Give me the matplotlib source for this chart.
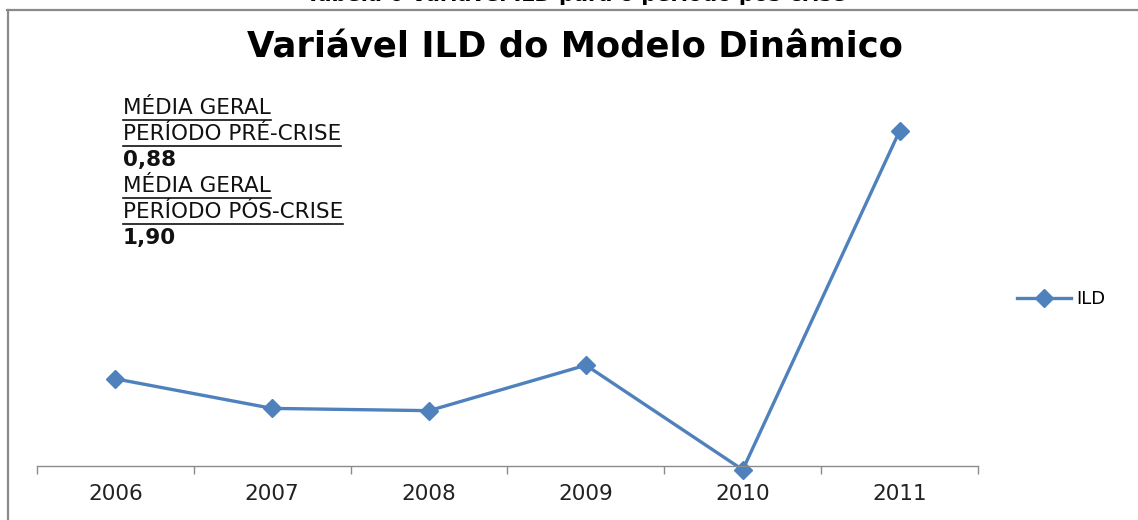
import numpy as np

import matplotlib
matplotlib.use('Agg')

import matplotlib.pyplot as plt
from matplotlib.lines import Line2D

plt.rcParams['font.family'] = ['DejaVu Sans']

# data (no y axis shown)
years = ['2006', '2007', '2008', '2009', '2010', '2011']
ild = [1.15, 0.76, 0.73, 1.33, -0.05, 4.42]
notes = [
    ('MÉDIA GERAL', True, False),
    ('PERÍODO PRÉ-CRISE', True, False),
    ('0,88', False, True),
    ('MÉDIA GERAL', True, False),
    ('PERÍODO PÓS-CRISE', True, False),
    ('1,90', False, True),
]

W, H = 1138, 520
fig = plt.figure(figsize=(W / 100, H / 100), dpi=100)

blue = '#4F81BD'
grey = '#8C8C8C'

# outer frame of the pasted chart
fig.add_artist(Line2D([7 / W, 1], [1 - 10 / H, 1 - 10 / H], color='#8A8A8A', lw=1.6))
fig.add_artist(Line2D([8 / W, 8 / W], [0, 1 - 10 / H], color='#8A8A8A', lw=1.6))

# caption cut off at the top, as in the source page
fig.text(576 / W, 1 - 1 / H, 'Tabela 6 Variável ILD para o período pós-crise',
         ha='center', va='baseline', fontsize=15, fontweight='bold')

ax = fig.add_axes([37 / W, 54 / H, 941 / W, 379 / H])
x = np.arange(len(years))
ax.plot(x, ild, color=blue, lw=2.4, marker='D', ms=9.5, clip_on=False, label='ILD')

ax.set_xlim(-0.5, len(years) - 0.5)
ax.set_ylim(0, 5)
for s in ['top', 'right', 'left']:
    ax.spines[s].set_visible(False)
ax.spines['bottom'].set_color(grey)
ax.spines['bottom'].set_linewidth(1.0)
ax.set_yticks([])
ax.set_xticks(np.arange(len(years) + 1) - 0.5)
ax.set_xticklabels([])
ax.set_xticks(x, minor=True)
ax.set_xticklabels(years, minor=True, fontsize=15.5, color='#222222')
ax.tick_params(axis='x', which='major', length=6, color=grey, width=1.0)
ax.tick_params(axis='x', which='minor', length=0, pad=13)

fig.text(575 / W, 1 - 47 / H, 'Variável ILD do Modelo Dinâmico',
         ha='center', va='center', fontsize=25.5, fontweight='bold')

fig.legend(loc='center left', bbox_to_anchor=(1008 / W, 1 - 299 / H), frameon=False,
           fontsize=13, handlelength=3.0, handletextpad=0.3, borderpad=0)

# text box with the averages, underlined headers
fig.canvas.draw()
renderer = fig.canvas.get_renderer()
y0 = 108
for i, (txt, under, bold) in enumerate(notes):
    yy = y0 + 26 * i
    t = fig.text(123 / W, 1 - yy / H, txt, ha='left', va='center', fontsize=15.5,
                 fontweight='bold' if bold else 'normal', color='#111111')
    if under:
        bb = t.get_window_extent(renderer)
        ly = 1 - (yy + 12) / H
        fig.add_artist(Line2D([bb.x0 / W, bb.x1 / W], [ly, ly], color='#111111', lw=1.2))

fig.savefig('out.png', dpi=100)
